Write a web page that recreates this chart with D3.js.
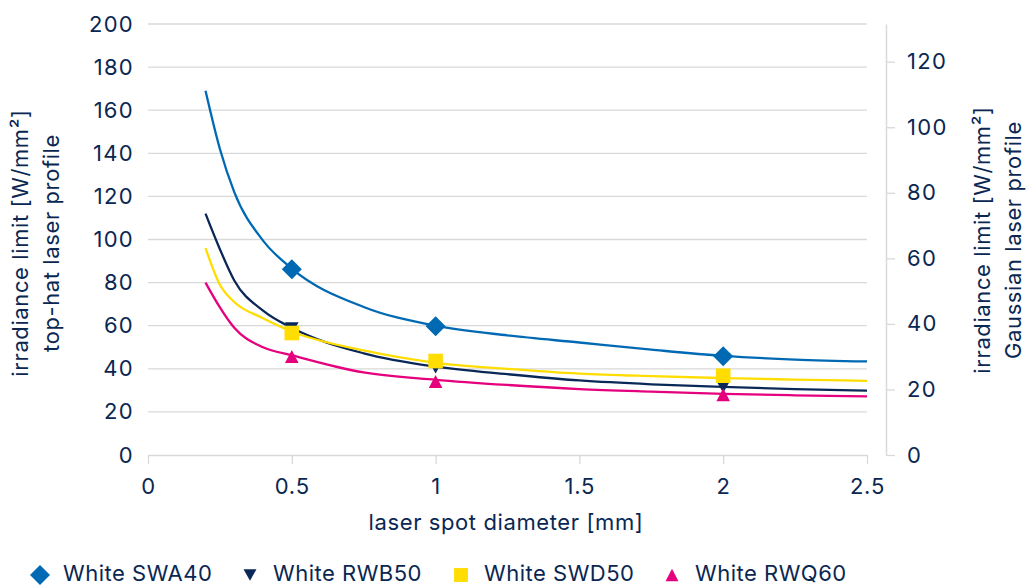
<!DOCTYPE html>
<html><head><meta charset="utf-8">
<script src="https://cdn.jsdelivr.net/npm/d3@7/dist/d3.min.js"></script>
<style>
body{margin:0;background:#fff;}
svg text{font-family:Inter,"Noto Sans",sans-serif;fill:#0a2752;}
</style></head>
<body><svg id="c" width="1027" height="587"></svg>
<script>
// Series names
const seriesNames = ["White SWA40","White RWB50","White SWD50","White RWQ60"];
// Trend curve sample positions (mm)
const curveX = [0.2,0.25,0.3,0.4,0.5,0.75,1,1.25,1.5,1.75,2,2.25,2.5];
const curveSWA40 = [169,142,122,99.5,86.5,68.7,60,55.5,52.2,48.9,46,44.3,43.4];
const curveRWB50 = [112,95.5,81,67,59,47.2,41,37.5,34.6,32.8,31.6,30.6,29.9];
const curveSWD50 = [96,79,71,63.5,57.3,48.5,42.8,40,37.8,36.6,35.7,35,34.4];
const curveRWQ60 = [80,68.5,59,50,46.3,38.3,34.9,32.5,30.6,29.4,28.4,27.7,27.2];
// Measured points
const pointX = [0.5,1,2];
const pointSWA40 = [86.2,59.8,45.8];
const pointRWB50 = [58.8,40.6,31.5];
const pointSWD50 = [56.6,43.6,36.8];
const pointRWQ60 = [45.7,34.1,28];
// Ticks
const xTicks = [0,0.5,1,1.5,2,2.5];
const yLeftTicks = [0,20,40,60,80,100,120,140,160,180,200];
const yRightTicks = [0,20,40,60,80,100,120];

const colors = ["#0069b4","#0a2857","#ffdd00","#e5007d"];
const curves = [curveSWA40,curveRWB50,curveSWD50,curveRWQ60];
const points = [pointSWA40,pointRWB50,pointSWD50,pointRWQ60];

function shape(i, s){ // s scale
  if(i===0){const r=10*s;return `M0,${-r}L${r},0L0,${r}L${-r},0Z`;}
  if(i===1){const w=6.8*s,h=6*s;return `M${-w},${-h}L${w},${-h}L0,${h}Z`;}
  if(i===2){const r=7.3*s;return `M${-r},${-r}H${r}V${r}H${-r}Z`;}
  const w=6.8*s,h=6.5*s;return `M${-w},${h}L${w},${h}L0,${-h}Z`;
}

const svg = d3.select("#c");
const x = d3.scaleLinear().domain([0,2.5]).range([148,867]);
const yL = d3.scaleLinear().domain([0,200]).range([455,24]);
const yR = d3.scaleLinear().domain([0,131.5]).range([455,24]);

const TC="#0a2752", FS=22;
// gridlines
svg.append("g").selectAll("line").data(yLeftTicks.slice(1)).join("line")
  .attr("x1",148).attr("x2",867).attr("y1",d=>yL(d)).attr("y2",d=>yL(d))
  .attr("stroke","#d9d9d9").attr("stroke-width",1.3);

// left axis labels
const gl = svg.append("g").attr("transform","translate(148,0)")
  .call(d3.axisLeft(yL).tickValues(yLeftTicks).tickSize(0).tickPadding(14));
gl.select(".domain").remove();
gl.selectAll("text").attr("font-size",FS).style("fill",TC).attr("font-family","Inter").attr("letter-spacing",1.3);

// x axis
const gx = svg.append("g").attr("transform","translate(0,455)")
  .call(d3.axisBottom(x).tickValues(xTicks).tickFormat(d3.format("~g")).tickSize(9).tickSizeOuter(0).tickPadding(14));
gx.select(".domain").attr("stroke","#d9d9d9").attr("stroke-width",1.5);
gx.selectAll(".tick line").attr("stroke","#d9d9d9").attr("stroke-width",1.3);
gx.selectAll("text").attr("font-size",FS).style("fill",TC).attr("font-family","Inter").attr("letter-spacing",0.8);

// right axis
const gr = svg.append("g").attr("transform","translate(886,0)")
  .call(d3.axisRight(yR).tickValues(yRightTicks).tickSize(9).tickSizeOuter(0).tickPadding(12));
gr.select(".domain").attr("stroke","#d9d9d9").attr("stroke-width",1.5);
gr.selectAll(".tick line").attr("stroke","#d9d9d9").attr("stroke-width",1.3);
gr.selectAll("text").attr("font-size",FS).style("fill",TC).attr("font-family","Inter").attr("letter-spacing",1.3);

// curves
const line = d3.line().curve(d3.curveMonotoneX);
curves.forEach((c,i)=>{
  svg.append("path").attr("d", line(curveX.map((xv,j)=>[x(xv), yL(c[j])])))
    .attr("fill","none").attr("stroke",colors[i]).attr("stroke-width",2.3);
});
// markers
points.forEach((p,i)=>{
  svg.append("g").selectAll("path").data(pointX).join("path")
    .attr("d", shape(i,1))
    .attr("transform",(d,j)=>`translate(${x(d)},${yL(p[j])})`)
    .attr("fill",colors[i]);
});

// axis titles
svg.append("text").attr("x",506).attr("y",530).attr("text-anchor","middle").attr("font-size",FS).attr("letter-spacing",0.6)
  .text("laser spot diameter [mm]");
const lt = svg.append("text").attr("transform","translate(28,243) rotate(-90)").attr("text-anchor","middle").attr("font-size",FS).attr("letter-spacing",0.6);
lt.append("tspan").attr("x",0).attr("dy",0).text("irradiance limit [W/mm²]");
lt.append("tspan").attr("x",0).attr("dy",31).text("top-hat laser profile");
const rt = svg.append("text").attr("transform","translate(990,240) rotate(-90)").attr("text-anchor","middle").attr("font-size",FS).attr("letter-spacing",0.6);
rt.append("tspan").attr("x",0).attr("dy",0).text("irradiance limit [W/mm²]");
rt.append("tspan").attr("x",0).attr("dy",31).text("Gaussian laser profile");

// legend
const legX=[40,250,461,672];
const lg = svg.append("g");
seriesNames.forEach((n,i)=>{
  lg.append("path").attr("d", shape(i, i===0?1:0.95))
    .attr("transform",`translate(${legX[i]},575)`).attr("fill",colors[i]);
  lg.append("text").attr("x",legX[i]+23).attr("y",581).attr("font-size",FS).attr("letter-spacing",0.5).text(n);
});
</script></body></html>
